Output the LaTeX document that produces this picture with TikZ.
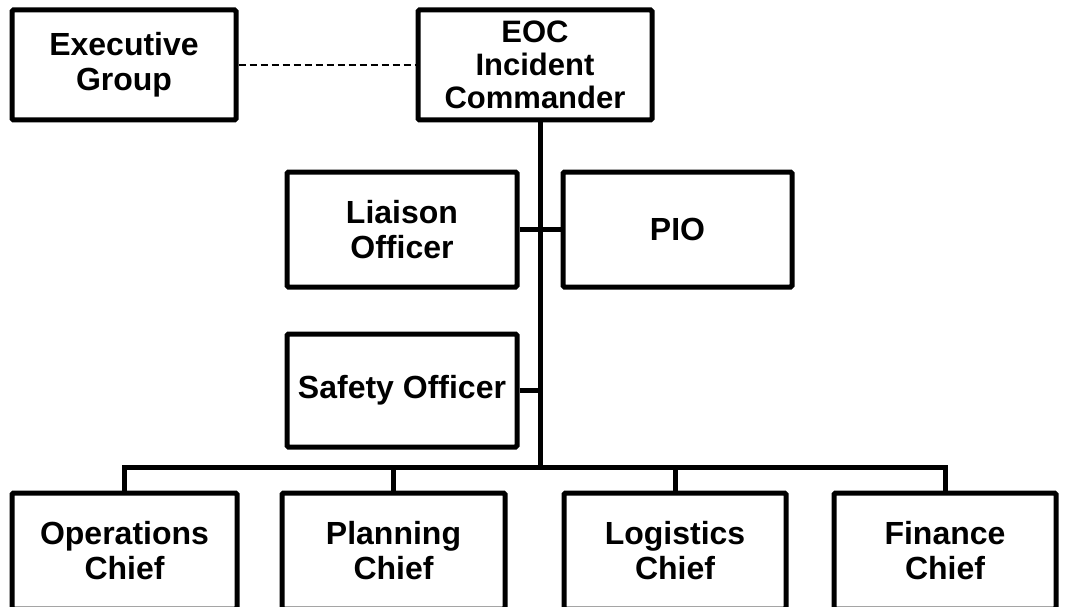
\documentclass[tikz,border=0pt]{standalone}
\usepackage{fontspec}
\setmainfont{Liberation Sans}
\usetikzlibrary{calc}

\begin{document}
\begin{tikzpicture}[x=1pt, y=-1pt,
		box/.style={draw, line width=5pt, rounded corners=1.5pt, inner sep=0pt,
			align=center, font=\fontsize{32}{35}\selectfont\bfseries},
		link/.style={line width=5pt},
		dotlink/.style={line width=1.8pt, dash pattern=on 7pt off 4pt}]
			%%%%% START %%%%%
			
			\clip (0, 0) rectangle (1068, 607);
			\fill[white] (0, 0) rectangle (1068, 607);
			
			\node[box, minimum width=224pt, minimum height=110pt] (exec) at (124, 65) {Executive\\Group};
			\node[box, minimum width=234pt, minimum height=110pt,
				font=\fontsize{31}{33}\selectfont\bfseries] (eoc) at (535, 65) {EOC\\Incident\\Commander};
			
			\node[box, minimum width=230pt, minimum height=115pt] (liaison) at (402, 229.5) {Liaison\\Officer};
			\node[box, minimum width=229pt, minimum height=115pt] (pio) at (677.5, 229.5) {PIO};
			\node[box, minimum width=230pt, minimum height=113pt] (safety) at (402, 390.5) {Safety Officer};
			
			\node[box, minimum width=225pt, minimum height=116pt] (ops) at (124.5, 551) {Operations\\Chief};
			\node[box, minimum width=223pt, minimum height=116pt] (plan) at (393.5, 551) {Planning\\Chief};
			\node[box, minimum width=222pt, minimum height=116pt] (logi) at (675, 551) {Logistics\\Chief};
			\node[box, minimum width=222pt, minimum height=116pt] (fin) at (945, 551) {Finance\\Chief};
			
			\coordinate (bus) at (540, 467);
			
			\draw[dotlink] (exec) -- (eoc);
			
			\draw[link] (eoc.south -| bus) -- (bus);
			\draw[link] (liaison.east) -- (pio.west);
			\draw[link] (safety.east) -- (safety.east -| bus);
			
			\draw[link] (ops.north) |- (bus) -| (fin.north);
			\draw[link] (plan.north) -- (plan.north |- bus);
			\draw[link] (logi.north) -- (logi.north |- bus);
			
			%%%%% END %%%%%
\end{tikzpicture}
\end{document}
